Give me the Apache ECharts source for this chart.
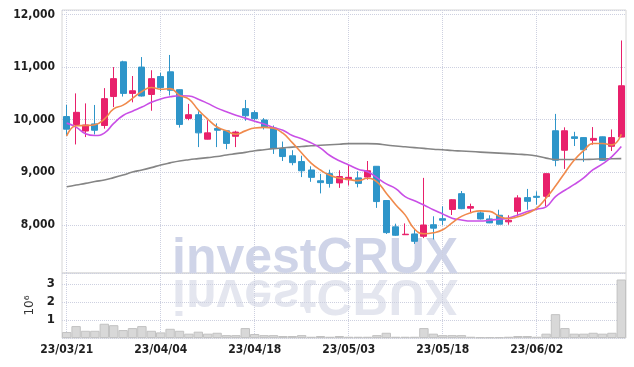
<!DOCTYPE html>
<html>
<head>
<meta charset="utf-8">
<script src="https://cdn.jsdelivr.net/npm/echarts@6/dist/echarts.min.js"></script>
<style>
html,body{margin:0;padding:0;background:#fff;}
#chart{width:634px;height:367px;}
</style>
</head>
<body>
<div id="chart"></div>
<script>
const dates = ['23/03/21','23/03/22','23/03/23','23/03/24','23/03/27','23/03/28','23/03/29','23/03/30','23/03/31','23/04/03',
'23/04/04','23/04/05','23/04/06','23/04/07','23/04/10','23/04/11','23/04/12','23/04/13','23/04/14','23/04/17',
'23/04/18','23/04/19','23/04/20','23/04/21','23/04/24','23/04/25','23/04/26','23/04/27','23/04/28','23/05/02',
'23/05/03','23/05/04','23/05/08','23/05/09','23/05/10','23/05/11','23/05/12','23/05/15','23/05/16','23/05/17',
'23/05/18','23/05/19','23/05/22','23/05/23','23/05/24','23/05/25','23/05/26','23/05/30','23/05/31','23/06/01',
'23/06/02','23/06/05','23/06/07','23/06/08','23/06/09','23/06/12','23/06/13','23/06/14','23/06/15','23/06/16'];

const openP = [10060,9910,9785,9920,9890,10440,11100,10500,11000,10480,10820,10910,10570,10025,10095,9630,9835,9790,9685,10210,
10135,9995,9840,9450,9315,9205,9045,8840,8975,8800,8860,8895,8910,9115,8465,7965,7815,7830,7785,8005,
8120,8295,8595,8320,8230,8115,8185,8060,8260,8520,8545,8545,9790,9420,9675,9660,9610,9675,9495,9670];
const closeP = [9820,10140,9900,9800,10400,10780,10500,10550,10450,10780,10610,10560,9910,10095,9750,9750,9800,9550,9765,10075,
10020,9860,9460,9300,9185,9030,8905,8805,8790,8920,8905,8790,9030,8445,7855,7805,7825,7690,8000,7940,
8090,8480,8310,8350,8115,8040,8015,8090,8515,8450,8525,8975,9230,9790,9645,9430,9645,9230,9660,10645];
const lowP = [9700,9530,9670,9720,9830,10240,10440,10330,10440,10170,10540,10460,9850,9990,9480,9625,9480,9440,9480,9980,
9995,9815,9350,9215,9135,8910,8820,8600,8710,8705,8750,8715,8860,8325,7830,7795,7810,7640,7750,7725,
8000,8190,8300,8240,8105,8035,8010,8005,8155,8290,8385,8355,9115,9065,9500,9200,9525,9225,9405,9665];
const highP = [10280,10500,10310,10280,10600,11000,11120,10830,11190,10940,10890,11230,10575,10300,10160,9990,9930,9800,9790,10375,
10175,10030,9890,9585,9420,9315,9115,8970,9050,9040,9150,9020,9215,9120,8470,8025,8030,7915,8895,8165,
8355,8490,8645,8405,8260,8185,8290,8185,8565,8685,8640,8980,10110,9855,9770,9665,9860,9680,9815,11505];

const ma5 = [9690,9885,9890,9905,10012,10204,10276,10406,10536,10612,10578,10590,10462,10391,10185,10013,9861,9789,9723,9788,
9842,9854,9836,9743,9565,9367,9176,9045,8943,8890,8865,8842,8887,8818,8605,8385,8192,7924,7835,7852,
7909,8040,8164,8234,8269,8259,8166,8122,8155,8222,8319,8511,8739,8994,9233,9414,9548,9548,9522,9722];
const ma20 = [9935,9860,9735,9700,9745,9930,10080,10160,10240,10330,10395,10435,10455,10450,10390,10310,10220,10150,10085,10030,
9970,9920,9850,9800,9700,9640,9560,9460,9320,9220,9140,9060,9010,8900,8780,8690,8540,8460,8380,8290,
8210,8130,8095,8075,8075,8090,8110,8130,8190,8255,8300,8345,8540,8660,8770,8895,9050,9160,9300,9490];
const ma60 = [8725,8760,8790,8825,8855,8900,8950,9005,9045,9090,9140,9180,9215,9240,9260,9280,9300,9330,9355,9380,
9410,9430,9450,9465,9480,9490,9505,9515,9525,9535,9545,9545,9545,9540,9520,9500,9485,9470,9455,9440,
9430,9415,9405,9395,9385,9375,9365,9355,9345,9335,9310,9270,9245,9245,9245,9245,9250,9255,9258,9260];
const volume = [330000,660000,400000,400000,790000,710000,440000,550000,660000,400000,310000,510000,400000,240000,350000,240000,290000,160000,160000,550000,
220000,160000,160000,110000,110000,160000,70000,110000,70000,110000,70000,70000,70000,160000,290000,70000,70000,70000,550000,240000,
160000,160000,160000,70000,40000,40000,40000,70000,110000,110000,70000,240000,1320000,550000,240000,240000,290000,240000,290000,3240000];

const priceTicks = {min: 7088, max: 12084};
const volTicks = {min: 0, max: 3600000, interval: 1000000};

const labelFont = '"DejaVu Sans Condensed", sans-serif';
const gridDash = {type: 'dotted', color: '#cdd0e0', width: 1};
const gridDates = dates.filter((d, i) => i % 10 === 0);
const vLines = {
  silent: true, symbol: 'none', z: 1,
  label: {show: false},
  lineStyle: gridDash,
  emphasis: {disabled: true},
  data: gridDates.map(d => ({xAxis: d}))
};

const chart = echarts.init(document.getElementById('chart'), null, {renderer: 'canvas'});
chart.setOption({
  animation: false,
  backgroundColor: '#ffffff',
  graphic: [
    {type: 'text', x: 172, y: 259, z: 0, silent: true,
     style: {text: 'investCRUX', font: 'bold 50px "Liberation Sans", Arial, sans-serif', fill: '#cfd4e8', verticalAlign: 'middle'}},
    {type: 'text', x: 172, y: 294, scaleY: -1, z: 0, silent: true,
     style: {text: 'investCRUX', font: 'bold 50px "Liberation Sans", Arial, sans-serif', fill: '#e4e6ef', verticalAlign: 'middle'}}
  ],
  grid: [
    {left: 62, right: 8, top: 10, height: 263, show: true, borderColor: '#d6d6d6', borderWidth: 1, backgroundColor: 'transparent'},
    {left: 62, right: 8, top: 273, height: 65, show: true, borderColor: '#d6d6d6', borderWidth: 1, backgroundColor: 'transparent'}
  ],
  xAxis: [
    {type: 'category', gridIndex: 0, data: dates, boundaryGap: true,
     axisLine: {show: false}, axisTick: {show: false}, axisLabel: {show: false}, splitLine: {show: false}},
    {type: 'category', gridIndex: 1, data: dates, boundaryGap: true,
     axisLine: {show: false}, axisTick: {show: false}, splitLine: {show: false},
     axisLabel: {interval: 9, margin: 6, color: '#1e1e1e', fontSize: 12, fontWeight: 'bold', fontFamily: labelFont}}
  ],
  yAxis: [
    {type: 'value', gridIndex: 0, min: priceTicks.min, max: priceTicks.max, splitNumber: 5, scale: true,
     axisLine: {show: false}, axisTick: {show: false},
     axisLabel: {showMinLabel: false, showMaxLabel: false, margin: 7, color: '#1e1e1e', fontSize: 12, fontWeight: 'bold', fontFamily: labelFont,
       formatter: v => String(Math.round(v)).replace(/\B(?=(\d{3})+(?!\d))/g, ',')},
     splitLine: {lineStyle: gridDash}},
    {type: 'value', gridIndex: 1, min: volTicks.min, max: volTicks.max, interval: volTicks.interval,
     name: '10⁶', nameLocation: 'middle', nameRotate: 90, nameGap: 26,
     nameTextStyle: {color: '#333', fontSize: 12, fontFamily: '"DejaVu Sans", sans-serif'},
     axisLine: {show: false}, axisTick: {show: false},
     axisLabel: {showMinLabel: false, showMaxLabel: false, margin: 7, color: '#1e1e1e', fontSize: 13, fontWeight: 'bold', fontFamily: labelFont,
       formatter: v => String(Math.round(v / 1e6))},
     splitLine: {lineStyle: gridDash}}
  ],
  series: [
    {type: 'candlestick', name: 'price', xAxisIndex: 0, yAxisIndex: 0, barWidth: '70%', z: 3,
     data: dates.map((d, i) => [openP[i], closeP[i], lowP[i], highP[i]]),
     itemStyle: {color: '#e8206b', color0: '#2e95c9', borderColor: '#e8206b', borderColor0: '#2e95c9', borderWidth: 1},
     markLine: vLines},
    {type: 'line', name: 'MA60', xAxisIndex: 0, yAxisIndex: 0, data: ma60, smooth: true, showSymbol: false, z: 4,
     lineStyle: {color: '#858585', width: 1.6}},
    {type: 'line', name: 'MA20', xAxisIndex: 0, yAxisIndex: 0, data: ma20, smooth: true, showSymbol: false, z: 4,
     lineStyle: {color: '#c94fe6', width: 1.6}},
    {type: 'line', name: 'MA5', xAxisIndex: 0, yAxisIndex: 0, data: ma5, smooth: true, showSymbol: false, z: 4,
     lineStyle: {color: '#f08a4c', width: 1.6}},
    {type: 'bar', name: 'volume', xAxisIndex: 1, yAxisIndex: 1, data: volume, barCategoryGap: '0%', z: 3,
     itemStyle: {color: '#d8d8d8', borderColor: '#c2c2c2', borderWidth: 1},
     markLine: vLines}
  ]
});
</script>
</body>
</html>
